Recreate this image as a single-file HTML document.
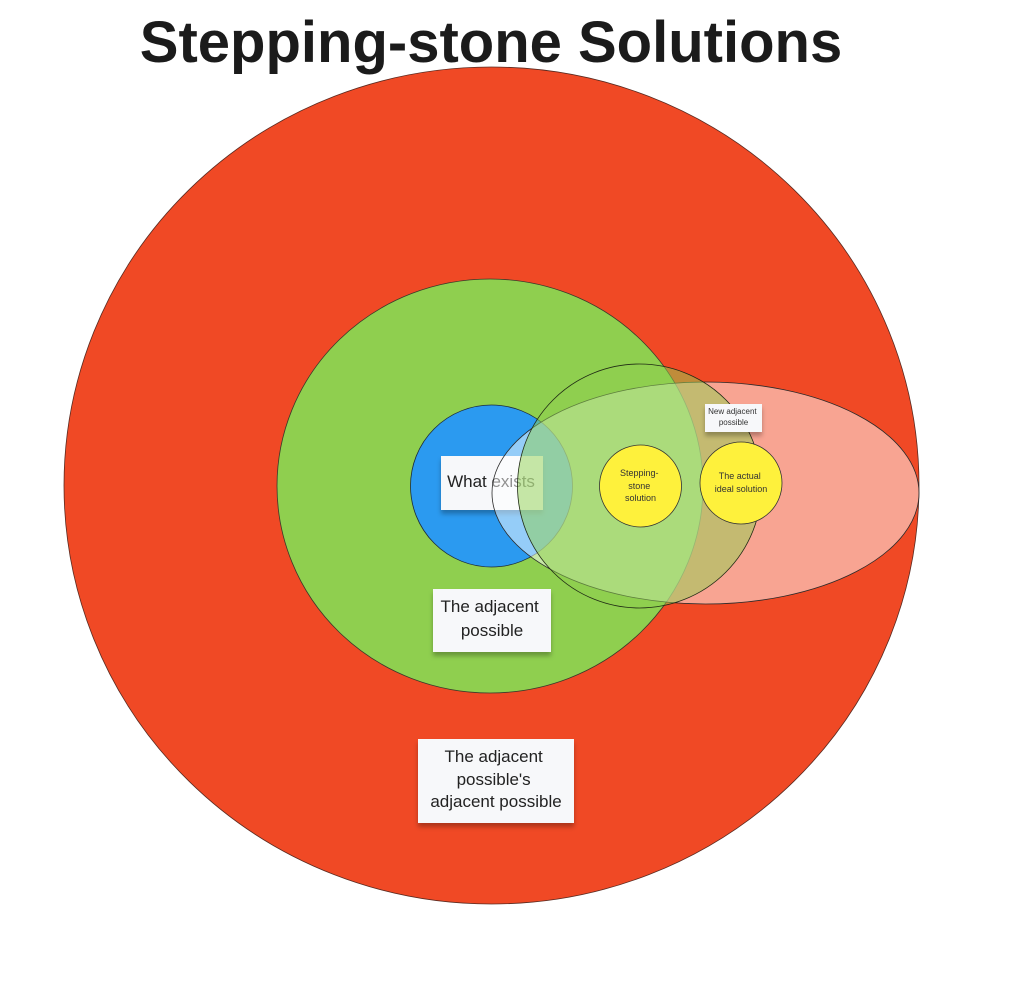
<!DOCTYPE html>
<html>
<head>
<meta charset="utf-8">
<style>
  html,body{margin:0;padding:0;background:#fff;}
  body{width:1024px;height:995px;overflow:hidden;}
  svg{display:block;}
  text{font-family:"Liberation Sans", sans-serif;}
</style>
</head>
<body>
<svg width="1024" height="995" viewBox="0 0 1024 995" xmlns="http://www.w3.org/2000/svg">
  <defs>
    <filter id="sh" x="-20%" y="-20%" width="140%" height="160%">
      <feDropShadow dx="0" dy="4" stdDeviation="2.5" flood-color="#000" flood-opacity="0.28"/>
    </filter>
  </defs>

  <text x="491" y="62" text-anchor="middle" font-size="58" font-weight="bold" fill="#1b1b1b">Stepping-stone Solutions</text>

  <!-- big red -->
  <ellipse cx="491.5" cy="485.5" rx="427.5" ry="418.5" fill="#f04925" stroke="#5a2a20" stroke-width="0.8"/>
  <!-- green -->
  <ellipse cx="490" cy="486" rx="213" ry="207" fill="#8fcf4f" stroke="#3a3a2a" stroke-width="0.8"/>
  <!-- blue -->
  <circle cx="491.5" cy="486" r="81" fill="#2b9af0" stroke="#1d2b3a" stroke-width="0.8"/>

  <!-- What exists label (under overlays) -->
  <rect x="441" y="456" width="102" height="54" fill="#f7f8fa" filter="url(#sh)"/>
  <text x="491" y="487" text-anchor="middle" font-size="17" fill="#222">What exists</text>

  <!-- translucent white ellipse -->
  <ellipse cx="705.5" cy="493" rx="213.5" ry="111" fill="#ffffff" fill-opacity="0.5" stroke="#2a2a2a" stroke-width="0.8"/>
  <!-- translucent green circle -->
  <circle cx="639.5" cy="486" r="122" fill="#8fcf4f" fill-opacity="0.5" stroke="#1f2a14" stroke-width="0.8"/>

  <!-- yellow circles -->
  <circle cx="640.5" cy="486" r="41" fill="#fef13c" stroke="#333" stroke-width="0.8"/>
  <text font-size="9" fill="#333" text-anchor="middle">
    <tspan x="640.5" y="476">Stepping-</tspan>
    <tspan x="640.5" y="489">stone</tspan>
    <tspan x="640.5" y="501">solution</tspan>
  </text>
  <circle cx="741" cy="483" r="41" fill="#fef13c" stroke="#333" stroke-width="0.8"/>
  <text font-size="9" fill="#333" text-anchor="middle">
    <tspan x="741" y="479">The actual</tspan>
    <tspan x="741" y="492">ideal solution</tspan>
  </text>

  <!-- New adjacent possible -->
  <rect x="705" y="404" width="57" height="28" fill="#f7f8fa" filter="url(#sh)"/>
  <text font-size="8" fill="#333" text-anchor="middle">
    <tspan x="733.5" y="414">New adjacent</tspan>
    <tspan x="733.5" y="425">possible</tspan>
  </text>

  <!-- The adjacent possible -->
  <rect x="433" y="589" width="118" height="63" fill="#f7f8fa" filter="url(#sh)"/>
  <text font-size="17" fill="#222" text-anchor="middle">
    <tspan x="492" y="612">The adjacent</tspan>
    <tspan x="492" y="636">possible</tspan>
  </text>

  <!-- The adjacent possible's adjacent possible -->
  <rect x="418" y="739" width="156" height="84" fill="#f7f8fa" filter="url(#sh)"/>
  <text font-size="17" fill="#222" text-anchor="middle">
    <tspan x="496" y="762">The adjacent</tspan>
    <tspan x="496" y="785">possible's</tspan>
    <tspan x="496" y="807">adjacent possible</tspan>
  </text>
</svg>
</body>
</html>
